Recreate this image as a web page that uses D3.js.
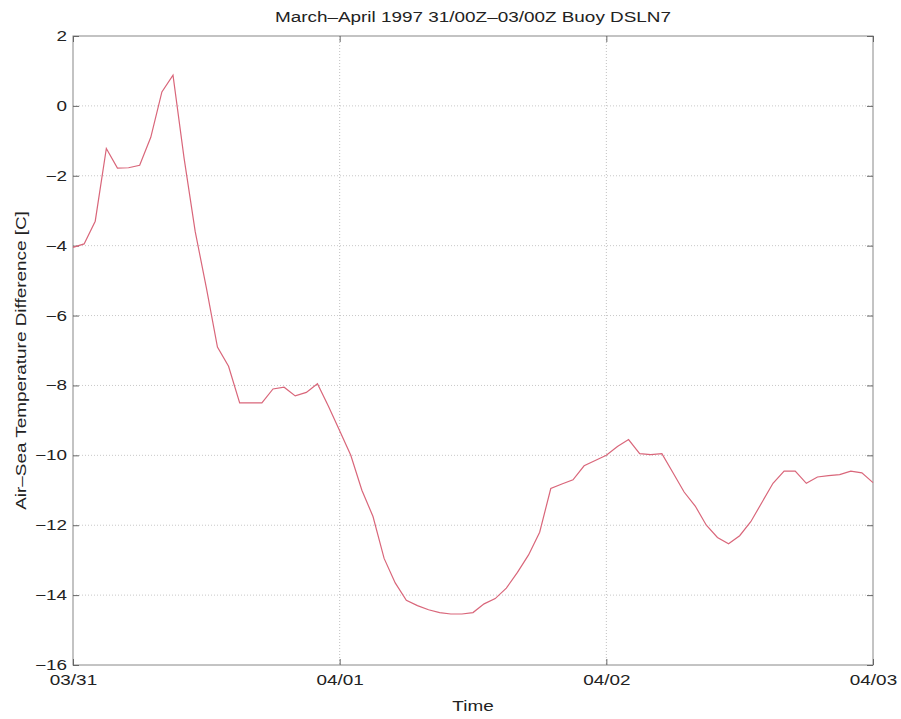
<!DOCTYPE html>
<html><head><meta charset="utf-8">
<script src="https://cdn.jsdelivr.net/npm/d3@7"></script>
<style>body{margin:0;background:#fff}svg{display:block}text{font-family:"Liberation Sans",Arial,sans-serif;fill:#222}</style>
</head><body><svg id="c" width="901" height="719"></svg>
<script>
const hours = d3.range(0, 73);
const values = [-4.05,-3.95,-3.3,-1.22,-1.78,-1.77,-1.7,-0.9,0.4,0.88,
 -1.5,-3.6,-5.2,-6.9,-7.45,-8.5,-8.5,-8.5,-8.1,-8.05,
 -8.3,-8.2,-7.95,-8.6,-9.3,-10.0,-11.0,-11.75,-12.95,-13.65,
 -14.15,-14.3,-14.42,-14.5,-14.54,-14.54,-14.5,-14.25,-14.1,-13.8,
 -13.35,-12.85,-12.2,-10.95,-10.82,-10.7,-10.3,-10.15,-10.0,-9.75,
 -9.55,-9.95,-9.98,-9.95,-10.5,-11.05,-11.45,-12.0,-12.35,-12.53,
 -12.3,-11.9,-11.35,-10.8,-10.45,-10.45,-10.8,-10.62,-10.58,-10.55,
 -10.45,-10.5,-10.78];
const xTickValues = [0, 24, 48, 72];
const xTickLabels = ["03/31", "04/01", "04/02", "04/03"];
const yTickValues = [2, 0, -2, -4, -6, -8, -10, -12, -14, -16];
const title = "March\u2013April 1997 31/00Z\u201303/00Z Buoy DSLN7";
const xLabel = "Time";
const yLabel = "Air\u2013Sea Temperature Difference [C]";

const svg = d3.select("#c");
const L = 73, R = 873, T = 36, B = 665;
const x = d3.scaleLinear().domain([0, 72]).range([L, R]);
const y = d3.scaleLinear().domain([-16, 2]).range([B, T]);
const FS = 14, STRETCH = 1.35;
function stretch(sel) {
  sel.each(function() {
    const w = this.getComputedTextLength();
    d3.select(this).attr("textLength", w * STRETCH).attr("lengthAdjust", "spacingAndGlyphs");
  });
}

// grid
const g = svg.append("g");
g.selectAll(".hg").data(yTickValues.filter(v => v > -16 && v < 2)).enter().append("line")
  .attr("x1", L).attr("x2", R).attr("y1", d => y(d)).attr("y2", d => y(d))
  .attr("stroke", "#c8c8c8").attr("stroke-width", 1).attr("stroke-dasharray", "1,2");
g.selectAll(".vg").data(xTickValues.filter(v => v > 0 && v < 72)).enter().append("line")
  .attr("y1", T).attr("y2", B).attr("x1", d => x(d)).attr("x2", d => x(d))
  .attr("stroke", "#c0c0c0").attr("stroke-width", 1).attr("stroke-dasharray", "1,2");

// frame
svg.append("rect").attr("x", L).attr("y", T).attr("width", R - L).attr("height", B - T)
  .attr("fill", "none").attr("stroke", "#888").attr("stroke-width", 1);

// axes
const xa = svg.append("g").attr("transform", `translate(0,${B})`)
  .call(d3.axisBottom(x).tickValues(xTickValues).tickFormat((d, i) => xTickLabels[i]).tickSize(-6).tickPadding(12));
const ya = svg.append("g").attr("transform", `translate(${L},0)`)
  .call(d3.axisLeft(y).tickValues(yTickValues).tickFormat(d => d < 0 ? "\u2212" + Math.abs(d) : d).tickSize(-6).tickPadding(6));
[xa, ya].forEach(a => {
  a.select(".domain").remove();
  a.selectAll(".tick line").attr("stroke", "#666");
  a.selectAll(".tick text").attr("font-size", FS).attr("fill", "#222").call(stretch);
});
xa.selectAll(".tick text").attr("dy", "0.6em");
// top/right ticks
svg.append("g").attr("transform", `translate(0,${T})`)
  .call(d3.axisTop(x).tickValues(xTickValues).tickSize(-6).tickFormat(""))
  .call(a => { a.select(".domain").remove(); a.selectAll(".tick line").attr("stroke", "#666"); });
svg.append("g").attr("transform", `translate(${R},0)`)
  .call(d3.axisRight(y).tickValues(yTickValues).tickSize(-6).tickFormat(""))
  .call(a => { a.select(".domain").remove(); a.selectAll(".tick line").attr("stroke", "#666"); });

// line
const line = d3.line().x((d, i) => x(hours[i])).y(d => y(d));
svg.append("path").datum(values).attr("d", line)
  .attr("fill", "none").attr("stroke", "#d9667a").attr("stroke-width", 1.2);

// labels
svg.append("text").attr("x", (L + R) / 2).attr("y", 22).attr("text-anchor", "middle")
  .attr("font-size", FS).text(title).call(stretch);
svg.append("text").attr("x", (L + R) / 2).attr("y", 711).attr("text-anchor", "middle")
  .attr("font-size", FS).text(xLabel).call(stretch);
svg.append("text").attr("transform", `translate(26,${(T + B) / 2 + 10}) rotate(-90)`).attr("text-anchor", "middle")
  .attr("font-size", FS).text(yLabel).call(stretch);
</script></body></html>
